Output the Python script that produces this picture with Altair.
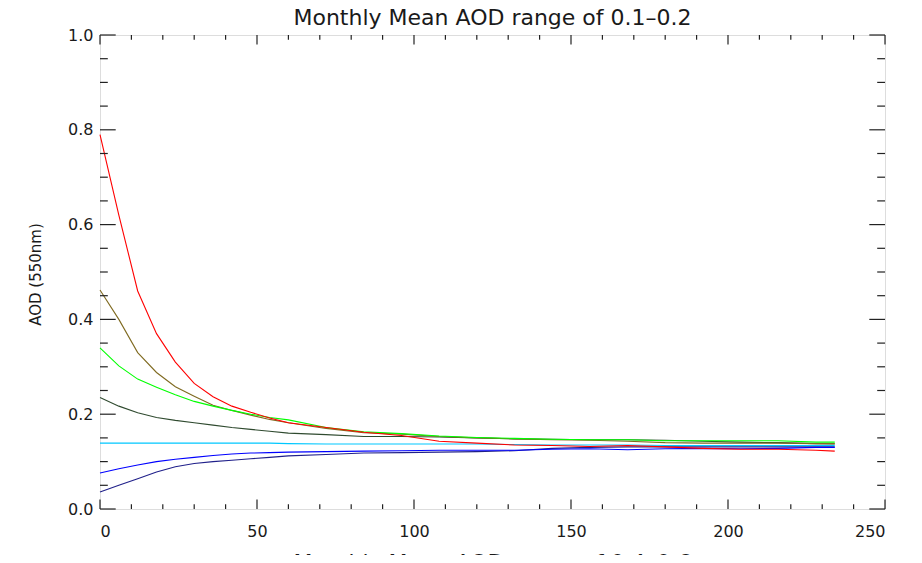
import altair as alt
import pandas as pd

# ---- data ----
x_days = [0, 6, 12, 18, 24, 30, 36, 42, 48, 54, 60, 72, 84, 96, 108, 120,
          132, 144, 156, 168, 180, 192, 204, 216, 228, 234]

red = [0.790, 0.620, 0.460, 0.370, 0.310, 0.265, 0.237, 0.217, 0.204, 0.192, 0.182,
       0.172, 0.162, 0.155, 0.143, 0.139, 0.135, 0.134, 0.132, 0.134, 0.131, 0.128,
       0.126, 0.126, 0.124, 0.122]
olive = [0.462, 0.400, 0.330, 0.288, 0.258, 0.238, 0.219, 0.208, 0.198, 0.189, 0.182,
         0.170, 0.161, 0.158, 0.153, 0.150, 0.148, 0.146, 0.145, 0.143, 0.140, 0.139,
         0.139, 0.139, 0.138, 0.138]
green = [0.340, 0.302, 0.274, 0.257, 0.241, 0.227, 0.217, 0.208, 0.200, 0.193, 0.188,
         0.172, 0.163, 0.159, 0.154, 0.151, 0.149, 0.147, 0.146, 0.146, 0.144, 0.144,
         0.144, 0.144, 0.141, 0.141]
dark = [0.235, 0.217, 0.203, 0.193, 0.187, 0.182, 0.177, 0.172, 0.168, 0.164, 0.160,
        0.157, 0.153, 0.153, 0.152, 0.150, 0.148, 0.147, 0.146, 0.146, 0.145, 0.143,
        0.141, 0.140, 0.138, 0.137]
cyan = [0.139, 0.139, 0.139, 0.139, 0.139, 0.139, 0.139, 0.139, 0.139, 0.139, 0.138,
        0.137, 0.137, 0.137, 0.137, 0.137, 0.136, 0.135, 0.135, 0.135, 0.134, 0.134,
        0.134, 0.134, 0.134, 0.134]
blue = [0.076, 0.085, 0.093, 0.100, 0.105, 0.109, 0.113, 0.116, 0.118, 0.119, 0.120,
        0.121, 0.122, 0.123, 0.124, 0.124, 0.124, 0.126, 0.127, 0.125, 0.127, 0.128,
        0.127, 0.128, 0.130, 0.130]
navy = [0.036, 0.050, 0.064, 0.078, 0.089, 0.096, 0.100, 0.103, 0.106, 0.109, 0.112,
        0.115, 0.118, 0.119, 0.120, 0.121, 0.123, 0.128, 0.130, 0.131, 0.131, 0.131,
        0.131, 0.131, 0.131, 0.131]

series_names = ["navy", "blue", "cyan", "dark", "olive", "green", "red"]
series_values = [navy, blue, cyan, dark, olive, green, red]
series_colors = ["#20208a", "#0000ff", "#00c8ff", "#2f4a2f", "#7f6a20", "#00ff00", "#ff0000"]

x_major = [0, 50, 100, 150, 200, 250]
x_minor = [v for v in range(10, 250, 10) if v % 50 != 0]
y_major = [0.0, 0.2, 0.4, 0.6, 0.8, 1.0]
y_minor = [0.05, 0.1, 0.15, 0.25, 0.3, 0.35, 0.45, 0.5, 0.55, 0.65, 0.7, 0.75,
           0.85, 0.9, 0.95]

title_text = ["Monthly Mean AOD range of 0.1\u20130.2"]
bottom_text = ["Monthly Mean AOD range of 0.4\u20130.6"]
y_title = "AOD (550nm)"

# ---- layout ----
W, H = 785, 474
FONT = "DejaVu Sans"
TICK = "#222222"
TXT = "#1a1a1a"

rows = []
for name, vals in zip(series_names, series_values):
    for xv, yv in zip(x_days, vals):
        rows.append({"x": xv, "y": yv, "s": name})
df = pd.DataFrame(rows)

xscale = alt.Scale(domain=[0, 250], nice=False, zero=False)
yscale = alt.Scale(domain=[0, 1], nice=False, zero=False)

x_axis = alt.Axis(values=x_major, ticks=False, tickSize=0, domain=False,
                  grid=False, labelPadding=14, labelFontSize=16,
                  labelFont=FONT, labelColor=TXT, format="d")
y_axis = alt.Axis(values=y_major, ticks=False, tickSize=0, domain=False,
                  grid=False, labelPadding=7, labelFontSize=16,
                  labelFont=FONT, labelColor=TXT, format=".1f",
                  titleFont=FONT, titleFontSize=15, titleFontWeight="normal",
                  titleColor=TXT, titleX=-65, titleY=H / 2 + 2,
                  titleAngle=270, titleAlign="center", titleBaseline="middle")

lines = alt.Chart(df).mark_line(strokeWidth=1.1).encode(
    x=alt.X("x:Q", scale=xscale, title=None, axis=x_axis),
    y=alt.Y("y:Q", scale=yscale, title=y_title, axis=y_axis),
    color=alt.Color("s:N", scale=alt.Scale(domain=series_names, range=series_colors),
                    legend=None),
    order=alt.Order("x:Q"),
)

def xticks(vals, y0, y1):
    return alt.Chart(pd.DataFrame({"v": vals})).mark_rule(
        color=TICK, strokeWidth=1.2).encode(
        x=alt.X("v:Q", scale=xscale, title=None, axis=x_axis),
        y=alt.value(y0), y2=alt.value(y1))

def yticks(vals, x0, x1):
    return alt.Chart(pd.DataFrame({"v": vals})).mark_rule(
        color=TICK, strokeWidth=1.2).encode(
        y=alt.Y("v:Q", scale=yscale, title=y_title, axis=y_axis),
        x=alt.value(x0), x2=alt.value(x1))

ML_X, MN_X = 9.5, 4.7
ML_Y, MN_Y = 15.7, 7.8

tick_layers = [
    xticks(x_major, H, H - ML_X), xticks(x_major, 0, ML_X),
    xticks(x_minor, H, H - MN_X), xticks(x_minor, 0, MN_X),
    yticks(y_major, 0, ML_Y), yticks(y_major, W, W - ML_Y),
    yticks(y_minor, 0, MN_Y), yticks(y_minor, W, W - MN_Y),
]

top_title = alt.Chart(pd.DataFrame({"t": title_text})).mark_text(
    font=FONT, fontSize=22, color=TXT, baseline="alphabetic", align="center").encode(
    text="t:N", x=alt.value(W / 2), y=alt.value(-10))

bottom = alt.Chart(pd.DataFrame({"t": bottom_text})).mark_text(
    font=FONT, fontSize=22, color=TXT, baseline="top", align="center").encode(
    text="t:N", x=alt.value(W / 2), y=alt.value(H + 44))

chart = alt.layer(lines, *tick_layers, top_title, bottom).properties(
    width=W, height=H,
    autosize=alt.AutoSizeParams(type="none"),
    padding={"left": 92, "top": 27, "right": 22, "bottom": 46},
).configure_view(
    stroke="#222222", strokeWidth=1.5
).configure(background="white")

chart.save("out.html", embed_options={"renderer": "svg", "actions": False})
